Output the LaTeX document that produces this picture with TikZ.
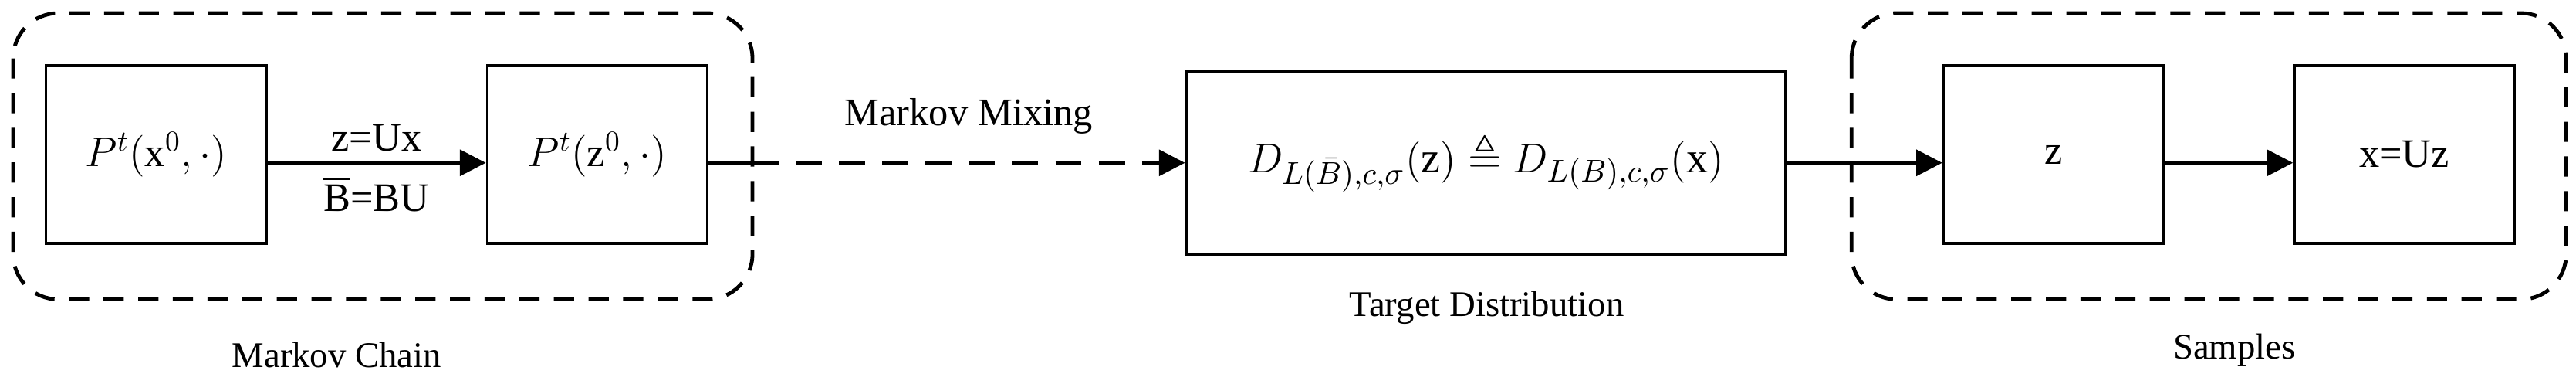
\documentclass[tikz,border=0pt]{standalone}
\usepackage{fontspec}
\usepackage{amsmath,amssymb}
\setmainfont{Liberation Serif}
\usetikzlibrary{positioning,arrows.meta}

\begin{document}
\begin{tikzpicture}[x=0.02cm,y=-0.02cm,
      block/.style={draw,line width=0.9pt,minimum width=2.68cm,minimum height=2.16cm,inner sep=0pt,font=\fontsize{14}{16}\selectfont},
      group/.style={draw,line width=1.3pt,rounded corners=0.55cm,dash pattern=on 7pt off 5pt},
      edge/.style={-{Triangle[length=9pt,width=9pt]},line width=1.1pt},
      lbl/.style={font=\fontsize{12.5}{15}\selectfont},
      >=Latex
    ]
    \useasboundingbox (0,0) rectangle (1568,233);
    % Markov chain part
    \node[block] (px) at (95,94) {$P^{t}(\mathrm{x}^{0},\cdot)$};
    \node[block] (pz) at (363.5,94) {$P^{t}(\mathrm{z}^{0},\cdot)$};
    \coordinate (pxr) at ([yshift=-0.1cm]px.east);
    \draw[edge] (pxr) -- node[lbl,font=\fontsize{14}{16}\selectfont,above=0pt] {z=Ux}
      node[lbl,font=\fontsize{14}{16}\selectfont,below=1pt] {$\overline{\mathrm{B}}$=BU} (pxr -| pz.west);
    \draw[group] (8,8) rectangle (458,182);
    \node[lbl] (chain) at (205,216) {Markov Chain};
    % target distribution
    \node[block,minimum width=7.3cm,minimum height=2.22cm,font=\fontsize{15}{17}\selectfont] (target) at (904.5,99)
      {$D_{L(\bar{B}),c,\sigma}(\mathrm{z})\;{\triangleq}\;D_{L(B),c,\sigma}(\mathrm{x})$};
    \node[lbl] (tlabel) at (905,187) {Target Distribution};
    \coordinate (pzr) at ([yshift=-0.1cm]pz.east);
    \coordinate (gout) at (458,99);
    \draw[line width=1.3pt] (pzr) -- (gout);
    \draw[edge,dash pattern=on 9pt off 6pt] (gout) -- node[lbl,font=\fontsize{13.5}{16}\selectfont,above=6pt] {Markov Mixing} (target);
    % samples
    \node[block] (z) at (1250,94) {z};
    \node[block] (x) at (1463.5,94) {x=Uz};
    \coordinate (zr) at ([yshift=-0.1cm]z.east);
    \draw[edge] (zr) -- (zr -| x.west);
    \draw[edge] (target.east) -- (z.west |- target.east);
    \draw[group] (1127,8) rectangle (1562,182);
    \node[lbl] (samples) at (1360,213) {Samples};
  \end{tikzpicture}
\end{document}
